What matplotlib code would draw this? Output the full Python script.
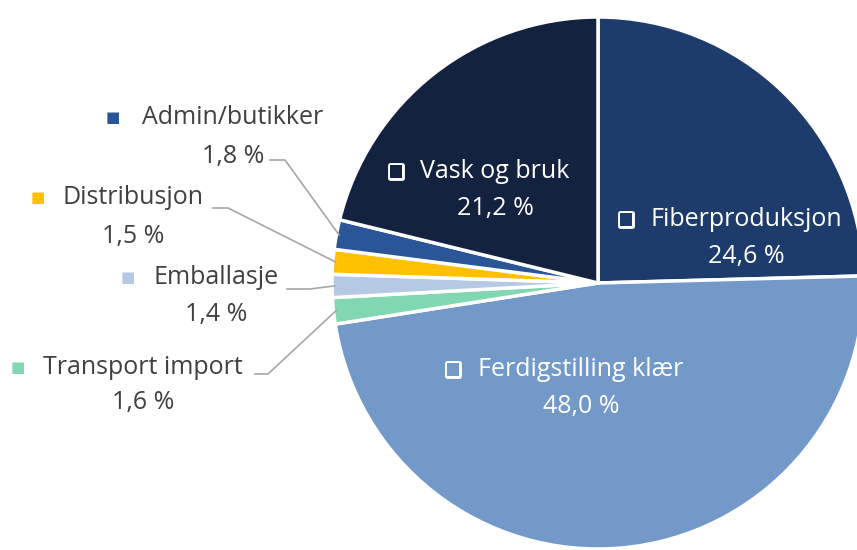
import matplotlib
matplotlib.use("Agg")
import matplotlib.pyplot as plt
import matplotlib.patheffects as pe
import numpy as np

# data
categories = ["Fiberproduksjon", "Ferdigstilling klær", "Transport import",
              "Emballasje", "Distribusjon", "Admin/butikker", "Vask og bruk"]
values = [24.6, 48.0, 1.6, 1.4, 1.5, 1.8, 21.2]
pct_labels = ["24,6 %", "48,0 %", "1,6 %", "1,4 %", "1,5 %", "1,8 %", "21,2 %"]
colors = ["#1E3C6B", "#7399C9", "#80D7B1", "#B5C8E4", "#FFC000", "#2A5597", "#13233F"]

W, H = 857, 550
def py(y):  # image y (top-down) -> axes y
    return H - y

plt.rcParams['font.family'] = ['Open Sans', 'DejaVu Sans']

fig = plt.figure(figsize=(W / 100, H / 100), dpi=100)
ax = fig.add_axes([0, 0, 1, 1])

cx, cy, r = 598, py(283), 266
wedges, _ = ax.pie(values, colors=colors, startangle=90, counterclock=False,
                   center=(cx, cy), radius=r,
                   wedgeprops=dict(edgecolor="white", linewidth=2.5))
ax.set_xlim(0, W)
ax.set_ylim(0, H)
ax.set_aspect("equal")
ax.axis("off")

txt_col = "#404040"
fs = 18

# labels inside the big slices: (square x, text centre x, label y, pct y)
inner = {0: (626, 746, 219, 256),
         1: (453, 581, 369, 406),
         6: (396, 495, 171, 208)}
for i, (sx, tx, ly, pyy) in inner.items():
    ax.text(sx, py(ly), "■", color=colors[i], fontsize=12, ha="center", va="center",
            family="DejaVu Sans",
            path_effects=[pe.Stroke(linewidth=3.5, foreground="white"), pe.Normal()])
    ax.text(tx, py(ly), categories[i], color="white", fontsize=fs, ha="center", va="center")
    ax.text(tx, py(pyy), pct_labels[i], color="white", fontsize=fs, ha="center", va="center")

# labels outside the small slices: (square x, text centre x, label y, pct y, leader start, elbow x)
outer = {5: (113, 233, 118, 156, (270, 160), 285),
         4: (38, 133, 198, 236, (213, 208), 228),
         3: (128, 216, 277, 314, (287, 289), 310),
         2: (18, 143, 367, 403, (255, 374), 268)}
for i, (sx, tx, ly, pyy, start, ex) in outer.items():
    ax.text(sx, py(ly), "■", color=colors[i], fontsize=11, ha="center", va="center",
            family="DejaVu Sans")
    ax.text(tx, py(ly), categories[i], color=txt_col, fontsize=fs, ha="center", va="center")
    ax.text(tx, py(pyy), pct_labels[i], color=txt_col, fontsize=fs, ha="center", va="center")
    w = wedges[i]
    mid = np.deg2rad((w.theta1 + w.theta2) / 2)
    end = (cx + 0.99 * r * np.cos(mid), cy + 0.99 * r * np.sin(mid))
    ax.plot([start[0], ex, end[0]], [py(start[1]), py(start[1]), end[1]],
            color="#A6A6A6", linewidth=1.2)

fig.savefig("out.png", dpi=100)
